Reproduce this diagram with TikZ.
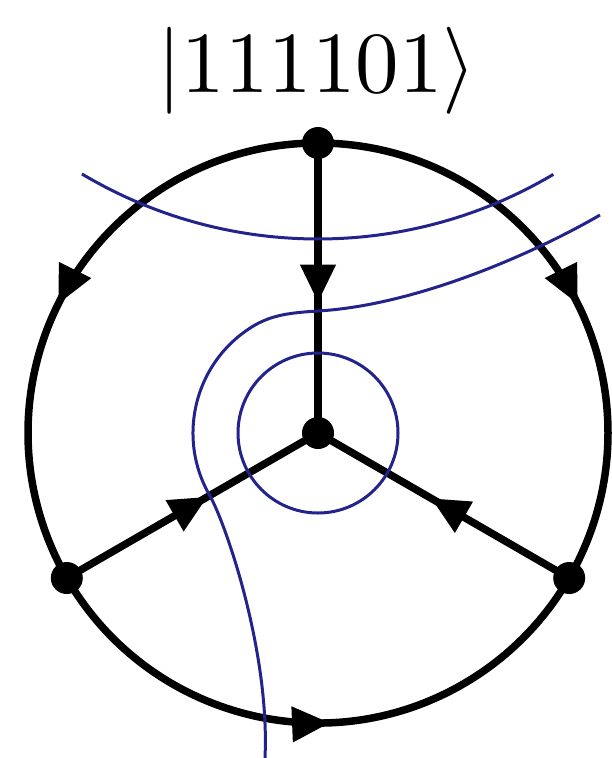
\documentclass[tikz,border=0pt]{standalone}
\usetikzlibrary{arrows.meta,decorations.markings}
\definecolor{bluec}{RGB}{35,35,140}
\pgfdeclarelayer{background}
\pgfsetlayers{background,main}
\begin{document}
\begin{tikzpicture}[x=1pt,y=1pt,
  edge/.style={line width=7.5pt},
  midarrow/.style={postaction={decorate},decoration={markings,mark=at position #1 with {\arrow{Triangle[length=38pt,width=34pt]}}}},
  vtx/.style={circle,fill=black,inner sep=0pt,minimum size=32pt},
  bluecurve/.style={draw=bluec,line width=3pt}]
\useasboundingbox (0,0) rectangle (611,-758);
\node[anchor=base,inner sep=0pt] (lbl) at (317,-92) {\scalebox{8.7}{$|111101\rangle$}};
\node[vtx] (t) at (318,-143) {};
\node[vtx] (c) at (318,-433) {};
\node[vtx] (l) at (66.8,-578) {};
\node[vtx] (r) at (569.2,-578) {};
\begin{pgfonlayer}{background}
\draw[edge, midarrow=0.53] (t.center) arc[start angle=90,end angle=210,radius=290];
\draw[edge, midarrow=0.53] (t.center) arc[start angle=90,end angle=-30,radius=290];
\draw[edge, midarrow=0.52] (l.center) arc[start angle=210,end angle=330,radius=290];
\draw[edge, midarrow=0.55] (t.center) -- (c.center);
\draw[edge, midarrow=0.56] (l.center) -- (c.center);
\draw[edge, midarrow=0.55] (r.center) -- (c.center);
\end{pgfonlayer}
\draw[bluecurve] (318,222) ++(239.2:461) arc[start angle=239.2,end angle=300.7,radius=461];
\draw[bluecurve] (c) circle[radius=80];
\draw[bluecurve] (600,-215) .. controls (540,-250) and (420,-305) .. (318,-311)
  .. controls (290,-312.7) and (273,-315) .. (255.5,-324.75)
  arc[start angle=120,end angle=210,radius=125]
  .. controls (224.75,-521.5) and (270,-650) .. (265,-758);
\end{tikzpicture}
\end{document}
